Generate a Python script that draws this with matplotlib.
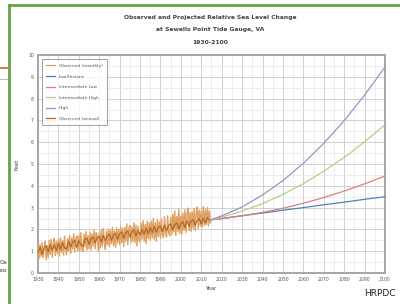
import numpy as np
import matplotlib
matplotlib.use("Agg")
import matplotlib.pyplot as plt
from matplotlib.lines import Line2D
from matplotlib.ticker import MultipleLocator

# ---------------- data ----------------
title_lines = ["Observed and Projected Relative Sea Level Change",
               "at Sewells Point Tide Gauge, VA",
               "1930-2100"]

legend_labels = ["Observed (monthly)", "Low/Historic", "Intermediate Low",
                 "Intermediate High", "High", "Observed (annual)"]

# semi-annual observed values 1930.0 .. 2014.5 (feet)
obs_semi_years = [1930 + i * 0.5 for i in range(170)]
obs_semi = [
    1.35, 0.65, 1.30, 0.75, 1.40, 0.70, 1.15, 1.45, 0.60, 1.25,
    0.70, 1.50, 0.85, 1.55, 0.72, 1.35, 1.60, 0.80, 1.45, 0.90,
    1.55, 0.78, 1.62, 0.95, 1.48, 0.82, 1.70, 1.05, 0.85, 1.58,
    1.00, 1.72, 0.90, 1.60, 1.10, 1.80, 0.95, 1.55, 1.70, 1.00,
    1.70, 1.02, 1.85, 1.10, 0.98, 1.78, 1.20, 1.90, 1.05, 1.72,
    1.12, 1.88, 1.05, 1.80, 1.25, 1.98, 1.10, 1.85, 1.70, 1.00,
    1.85, 1.15, 1.98, 1.22, 2.05, 1.35, 1.08, 1.92, 1.28, 2.02,
    1.20, 1.95, 1.35, 2.10, 1.25, 1.92, 1.18, 2.08, 1.38, 2.00,
    1.30, 2.12, 1.40, 2.05, 1.22, 2.10, 1.45, 2.25, 1.30, 2.02,
    2.18, 1.38, 2.10, 1.45, 2.30, 1.40, 2.20, 1.25, 2.15, 1.50,
    1.42, 2.28, 1.55, 2.40, 1.45, 2.22, 1.35, 2.38, 1.58, 2.30,
    1.50, 2.38, 1.62, 2.50, 1.55, 2.30, 1.45, 2.45, 1.68, 2.35,
    1.60, 2.48, 1.75, 1.62, 2.58, 1.80, 1.65, 2.62, 1.85, 1.70,
    2.55, 1.75, 2.70, 1.88, 2.85, 1.72, 2.60, 1.90, 2.92, 1.80,
    2.60, 1.80, 2.75, 1.95, 2.90, 1.85, 2.68, 2.98, 1.95, 2.78,
    1.90, 2.80, 2.05, 2.95, 1.95, 2.75, 3.02, 2.05, 2.88, 2.15,
    2.85, 2.10, 3.05, 2.18, 2.90, 2.22, 3.00, 2.15, 2.85, 2.30,
]

# annual observed values 1930 .. 2014 (feet)
obs_annual_years = list(range(1930, 2015))
obs_annual = [
    0.95, 1.20, 0.85, 1.15, 1.25, 0.98, 1.30, 1.05, 1.28, 1.02,
    1.35, 1.08, 1.40, 1.15, 1.10, 1.45, 1.20, 1.42, 1.50, 1.18,
    1.48, 1.30, 1.22, 1.55, 1.60, 1.32, 1.58, 1.65, 1.38, 1.62,
    1.68, 1.42, 1.72, 1.48, 1.70, 1.78, 1.50, 1.75, 1.82, 1.55,
    1.80, 1.88, 1.60, 1.85, 1.92, 1.65, 1.90, 1.98, 1.70, 1.95,
    1.75, 2.00, 1.78, 2.05, 1.80, 2.08, 1.85, 2.12, 1.88, 2.10,
    2.15, 1.90, 2.20, 1.95, 2.18, 2.25, 1.98, 2.22, 2.30, 2.02,
    2.28, 2.35, 2.08, 2.40, 2.15, 2.38, 2.45, 2.18, 2.42, 2.50,
    2.25, 2.52, 2.30, 2.55, 2.40,
]

# projections
proj_years = [2014, 2020, 2030, 2040, 2050, 2060, 2070, 2080, 2090, 2100]
low = [2.43, 2.50, 2.63, 2.75, 2.88, 3.00, 3.13, 3.25, 3.38, 3.50]
int_low = [2.43, 2.49, 2.62, 2.78, 2.97, 3.20, 3.46, 3.76, 4.09, 4.45]
int_high = [2.43, 2.56, 2.84, 3.18, 3.61, 4.10, 4.67, 5.30, 6.02, 6.80]
high = [2.43, 2.62, 3.03, 3.58, 4.24, 5.03, 5.95, 6.99, 8.16, 9.45]

x_ticks = list(range(1930, 2101, 10))
y_ticks = list(range(0, 11))

# ---------------- figure ----------------
fig = plt.figure(figsize=(4.0, 3.04), dpi=100)
fig.patch.set_facecolor("white")

W, H = 400.0, 304.0
def fx(px): return px / W
def fy(py): return 1 - py / H

# left-side fragments of the slide
fig.add_artist(Line2D([0, fx(8)], [fy(68), fy(68)], color="#E2572B", lw=1.2))
fig.add_artist(Line2D([0, fx(8)], [fy(79), fy(79)], color="#B8C4CC", lw=0.8))
fig.text(fx(0), fy(263), "Cle", fontsize=3.5, color="#333333", va="center", ha="left")
fig.text(fx(0), fy(271), "ros", fontsize=3.5, color="#333333", va="center", ha="left")
# green frame
fig.add_artist(Line2D([fx(8.5), fx(8.5)], [0, fy(5)], color="#6AA33F", lw=2.0))
fig.add_artist(Line2D([fx(8.5), 1], [fy(5), fy(5)], color="#6AA33F", lw=2.0))

ax = fig.add_axes([fx(38), fy(273), fx(385) - fx(38), fy(55) - fy(273)])

c_obs_m = "#E0A060"
c_obs_a = "#B06A2E"
c_low = "#4F81BD"
c_il = "#D9807E"
c_ih = "#B7CF85"
c_high = "#9D92C6"

ax.plot(obs_semi_years, obs_semi, color=c_obs_m, lw=1.0, zorder=3)
ax.plot(proj_years, low, color=c_low, lw=0.9, zorder=4)
ax.plot(proj_years, int_low, color=c_il, lw=0.9, zorder=4)
ax.plot(proj_years, int_high, color=c_ih, lw=0.9, zorder=4)
ax.plot(proj_years, high, color=c_high, lw=0.9, zorder=4)
ax.plot(obs_annual_years, obs_annual, color=c_obs_a, lw=0.9, zorder=3)

ax.set_xlim(1930, 2100)
ax.set_ylim(0, 10)
ax.set_xticks(x_ticks)
ax.set_yticks(y_ticks)
ax.xaxis.set_minor_locator(MultipleLocator(5))
ax.yaxis.set_minor_locator(MultipleLocator(0.5))
ax.grid(which="major", color="#D0D0D0", lw=0.7, zorder=0)
ax.grid(which="minor", color="#E6E6E6", lw=0.5, zorder=0)
ax.tick_params(which="both", length=0, labelsize=3.3, labelcolor="#555555", pad=3)
for s in ax.spines.values():
    s.set_color("#A6A6A6")
    s.set_linewidth(1.4)

ax.set_xlabel("Year", fontsize=3.8, color="#444444", labelpad=3)
ax.set_ylabel("Feet", fontsize=3.8, color="#444444", labelpad=6)

handles = [Line2D([], [], color=c, lw=0.9) for c in
           [c_obs_m, c_low, c_il, c_ih, c_high, c_obs_a]]
leg = ax.legend(handles, legend_labels, loc="upper left", fontsize=3.2,
                frameon=True, fancybox=False, edgecolor="#777777",
                borderpad=1.0, labelspacing=1.45, handlelength=2.0,
                bbox_to_anchor=(0.005, 0.99))
leg.get_frame().set_linewidth(0.6)
for t in leg.get_texts():
    t.set_color("#555555")

fig.text(fx(210), fy(17), title_lines[0], fontsize=4.3, fontweight="bold",
         ha="center", va="center", color="#444444")
fig.text(fx(210), fy(30), title_lines[1], fontsize=4.3, fontweight="bold",
         ha="center", va="center", color="#444444")
fig.text(fx(210), fy(43), title_lines[2], fontsize=4.3, fontweight="bold",
         ha="center", va="center", color="#444444")

fig.text(fx(396), fy(293), "HRPDC", fontsize=6.5, ha="right", va="center",
         color="#222222")

fig.savefig("out.png", dpi=100)
